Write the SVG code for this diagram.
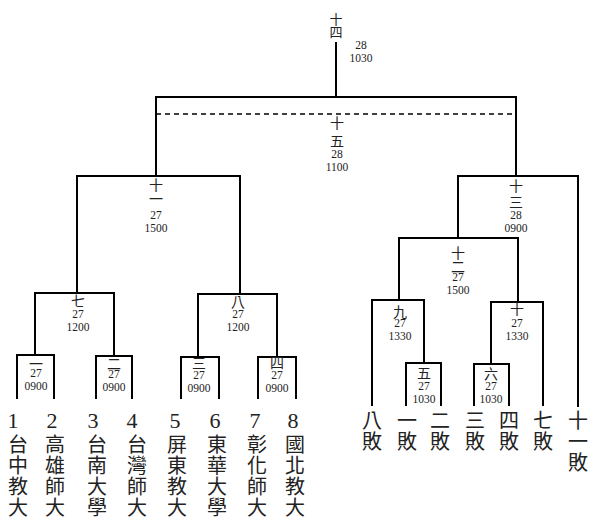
<svg xmlns="http://www.w3.org/2000/svg" width="600" height="527" viewBox="0 0 600 527">
<style>
.c{fill:none;stroke:#000;stroke-width:2;stroke-linejoin:miter;stroke-linecap:square}
.d{fill:none;stroke:#000;stroke-width:1.5;stroke-dasharray:5 4}
.k{font-family:"Noto Sans CJK TC","Noto Sans CJK SC",sans-serif;font-size:14px;fill:#222;writing-mode:vertical-rl}
.n{font-family:"Liberation Serif",serif;font-size:11.5px;fill:#222;text-anchor:middle}
.big{font-family:"Liberation Serif",serif;font-size:22px;fill:#222;text-anchor:middle}
.bk{font-family:"Noto Sans CJK TC","Noto Sans CJK SC",sans-serif;font-size:20px;fill:#222;writing-mode:vertical-rl;letter-spacing:1px}
</style>
<rect width="600" height="527" fill="#fff"/>
<g id="connectors">
<path class="c" d="M336 43V97"/>
<path class="c" d="M156 176V97H516V176"/>
<path class="d" d="M156 114H516"/>
<path class="c" d="M77 293V176H240V294"/>
<path class="c" d="M35 355V293H114V356"/>
<path class="c" d="M198 357V294H277V357"/>
<path class="c" d="M17 398V355H54V398"/>
<path class="c" d="M96 398V356H132V398"/>
<path class="c" d="M181 398V357H219V398"/>
<path class="c" d="M258 398V357H296V398"/>
<path class="c" d="M458 238V176H578V406"/>
<path class="c" d="M399 300V238H518V302"/>
<path class="c" d="M372 405V300H424V363"/>
<path class="c" d="M406 405V363H441V405"/>
<path class="c" d="M491 364V302H543V405"/>
<path class="c" d="M474 405V364H509V405"/>
</g>
<g id="m14"><text class="k" x="336" y="12.5" style="font-size:13px">十四</text><text class="n" x="361" y="49">28</text><text class="n" x="361" y="62">1030</text></g>
<g id="m15"><text class="k" x="337" y="116" style="letter-spacing:4px">十五</text><text class="n" x="337" y="158">28</text><text class="n" x="337" y="171">1100</text></g>
<g id="m11"><text class="k" x="156" y="178">十一</text><text class="n" x="156" y="219">27</text><text class="n" x="156" y="232">1500</text></g>
<g id="m7"><text class="k" x="78" y="294">七</text><text class="n" x="78" y="318">27</text><text class="n" x="78" y="331">1200</text></g>
<g id="m8"><text class="k" x="238" y="294.5">八</text><text class="n" x="238" y="318">27</text><text class="n" x="238" y="331">1200</text></g>
<g id="m1"><text class="k" x="36" y="357">一</text><text class="n" x="36" y="377">27</text><text class="n" x="36" y="390">0900</text></g>
<g id="m2"><text class="k" x="114" y="357">二</text><text class="n" x="114" y="378">27</text><text class="n" x="114" y="391">0900</text></g>
<g id="m3"><text class="k" x="199" y="356">三</text><text class="n" x="199" y="379">27</text><text class="n" x="199" y="392">0900</text></g>
<g id="m4"><text class="k" x="277" y="356">四</text><text class="n" x="277" y="379">27</text><text class="n" x="277" y="392">0900</text></g>
<g id="m13"><text class="k" x="516" y="179" style="letter-spacing:2px">十三</text><text class="n" x="516" y="219">28</text><text class="n" x="516" y="232">0900</text></g>
<g id="m12"><text class="k" x="458" y="245.5">十二</text><text class="n" x="458" y="281">27</text><text class="n" x="458" y="294">1500</text></g>
<g id="m9"><text class="k" x="400" y="305">九</text><text class="n" x="400" y="327">27</text><text class="n" x="400" y="340">1330</text></g>
<g id="m10"><text class="k" x="517" y="302">十</text><text class="n" x="517" y="327">27</text><text class="n" x="517" y="340">1330</text></g>
<g id="m5"><text class="k" x="424" y="365.5">五</text><text class="n" x="424" y="390">27</text><text class="n" x="424" y="403">1030</text></g>
<g id="m6"><text class="k" x="491" y="367">六</text><text class="n" x="491" y="390">27</text><text class="n" x="491" y="403">1030</text></g>
<g id="teams">
<text class="big" x="13" y="428">1</text><text class="big" x="52" y="428">2</text><text class="big" x="93" y="428">3</text><text class="big" x="132" y="428">4</text><text class="big" x="175" y="428">5</text><text class="big" x="215" y="428">6</text><text class="big" x="255" y="428">7</text><text class="big" x="293" y="428">8</text>
<text class="bk" x="18" y="434">台中教大</text>
<text class="bk" x="55" y="434">高雄師大</text>
<text class="bk" x="97" y="434">台南大學</text>
<text class="bk" x="137" y="434">台灣師大</text>
<text class="bk" x="177" y="434">屏東教大</text>
<text class="bk" x="217" y="434">東華大學</text>
<text class="bk" x="257" y="434">彰化師大</text>
<text class="bk" x="295" y="434">國北教大</text>
</g>
<g id="losers">
<text class="bk" x="372" y="410">八敗</text>
<text class="bk" x="407" y="410">一敗</text>
<text class="bk" x="440" y="410">二敗</text>
<text class="bk" x="475" y="410">三敗</text>
<text class="bk" x="509" y="410">四敗</text>
<text class="bk" x="543" y="410">七敗</text>
<text class="bk" x="578" y="410">十一敗</text>
</g>
</svg>
